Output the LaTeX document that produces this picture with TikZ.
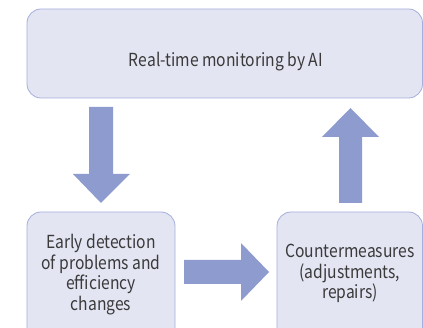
\documentclass[tikz,border=0pt]{standalone}
\usepackage{fontspec}
\setmainfont[FakeStretch=0.87]{Noto Sans CJK JP}
\begin{document}
\begin{tikzpicture}[x=1pt,y=-1pt,
  box/.style={draw=boxline,fill=boxfill,line width=0.8pt,rounded corners=14pt},
  lbl/.style={text=txt,font=\fontsize{18}{20.5}\selectfont,align=center,inner sep=0pt},
  blockarrow/.style={fill=arrowfill,draw=none}]
\definecolor{boxfill}{HTML}{E3E5F3}
\definecolor{boxline}{HTML}{A5AEDC}
\definecolor{arrowfill}{HTML}{8E9BCF}
\definecolor{txt}{HTML}{3A3A3A}
\useasboundingbox (0,0) rectangle (423,328);
\clip (0,0) rectangle (423,328);
\draw[box] (27,9) rectangle (422.5,98);
\node[lbl,anchor=base] (top) at (226,66.5) {Real-time monitoring by AI};
\draw[box] (27,212) rectangle (175,345);
\node[lbl,anchor=base] (left) at (101,310.5) {Early detection\\of problems and\\efficiency\\changes};
\draw[box] (277,212) rectangle (422.5,345);
\node[lbl,anchor=base] (right) at (350,299) {Countermeasures\\(adjustments,\\repairs)};
% down arrow
\fill[blockarrow] (89,107) -- (113,107) -- (113,174) -- (130,174) -- (101,203) -- (73,174) -- (89,174) -- cycle;
% right arrow
\fill[blockarrow] (184,260) -- (241,260) -- (241,243) -- (269,272) -- (241,301) -- (241,284) -- (184,284) -- cycle;
% up arrow
\fill[blockarrow] (339,203) -- (362,203) -- (362,137) -- (379,137) -- (350.5,108) -- (322,137) -- (339,137) -- cycle;
\end{tikzpicture}
\end{document}
